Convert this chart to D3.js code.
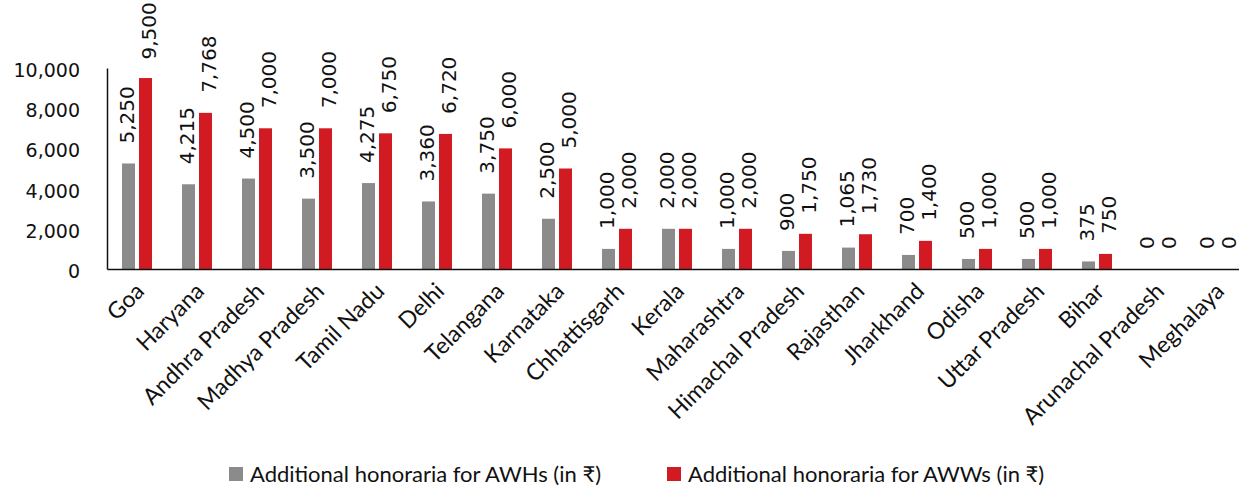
<!DOCTYPE html>
<html>
<head>
<meta charset="utf-8">
<script src="https://cdn.jsdelivr.net/npm/d3@7"></script>
<style>
  body { margin: 0; background: #fff; }
  text { font-family: Lato, "Open Sans", sans-serif; fill: #111; }
  .num { font-family: "DejaVu Sans", sans-serif; }
</style>
</head>
<body>
<div id="chart"></div>
<script>
const states = ["Goa", "Haryana", "Andhra Pradesh", "Madhya Pradesh", "Tamil Nadu", "Delhi",
  "Telangana", "Karnataka", "Chhattisgarh", "Kerala", "Maharashtra", "Himachal Pradesh",
  "Rajasthan", "Jharkhand", "Odisha", "Uttar Pradesh", "Bihar", "Arunachal Pradesh", "Meghalaya"];
const awhValues = [5250, 4215, 4500, 3500, 4275, 3360, 3750, 2500, 1000, 2000, 1000, 900, 1065, 700, 500, 500, 375, 0, 0];
const awwValues = [9500, 7768, 7000, 7000, 6750, 6720, 6000, 5000, 2000, 2000, 2000, 1750, 1730, 1400, 1000, 1000, 750, 0, 0];
const yTicks = [0, 2000, 4000, 6000, 8000, 10000];
const seriesNames = ["Additional honoraria for AWHs (in ₹)", "Additional honoraria for AWWs (in ₹)"];
const colors = ["#8b8b8b", "#d11a21"];

const width = 1239, height = 488;
const svg = d3.select("#chart").append("svg")
  .attr("width", width).attr("height", height);

const x = d3.scaleBand().domain(states).range([107, 1247]).paddingInner(0).paddingOuter(0);
const y = d3.scaleLinear().domain([0, 10000]).range([269, 68]);
const barW = 13, gap = 4;

// y axis
const yAxis = d3.axisLeft(y).tickValues(yTicks).tickSize(0).tickPadding(27)
  .tickFormat(d3.format(","));
const gy = svg.append("g").attr("transform", "translate(107,0)").call(yAxis);
gy.select(".domain").attr("stroke", "#111").attr("stroke-width", 1.5);
gy.selectAll("text").attr("class", "num").attr("font-size", 19).attr("dy", "0.45em");

// bars
const rows = states.map((s, i) => ({ s, v: [awhValues[i], awwValues[i]] }));
const g = svg.append("g");
rows.forEach(r => {
  const cx = x(r.s) + x.bandwidth() / 2;
  r.v.forEach((v, k) => {
    const bx = k === 0 ? cx - gap / 2 - barW : cx + gap / 2;
    g.append("rect")
      .attr("x", bx).attr("y", y(v))
      .attr("width", barW).attr("height", y(0) - y(v))
      .attr("fill", colors[k]);
    const label = d3.format(",")(v);
    const ly = Math.max(y(v) - 20, 2 + label.length * 11.5);
    g.append("text")
      .attr("class", "num")
      .attr("transform", `translate(${bx + barW / 2 + (k === 0 ? -2 : 3)},${ly}) rotate(-90)`)
      .attr("dy", "0.35em")
      .attr("font-size", 20)
      .text(label);
  });
});

// x axis
const xAxis = d3.axisBottom(x).tickSize(0).tickPadding(0);
const gx = svg.append("g").attr("transform", `translate(0,${y(0)})`).call(xAxis);
gx.select(".domain").attr("stroke", "#111").attr("stroke-width", 1.5);
gx.selectAll("text")
  .attr("font-size", 23)
  .attr("text-anchor", "end")
  .attr("transform", "translate(3,18) rotate(-45)")
  .attr("dy", "0.35em");

// legend
const legend = svg.append("g");
const lx = [229, 667];
seriesNames.forEach((n, k) => {
  legend.append("rect").attr("x", lx[k]).attr("y", 467).attr("width", 14).attr("height", 14).attr("fill", colors[k]);
  legend.append("text").attr("x", lx[k] + 21).attr("y", 482).attr("font-size", 22).text(n);
});
</script>
</body>
</html>
